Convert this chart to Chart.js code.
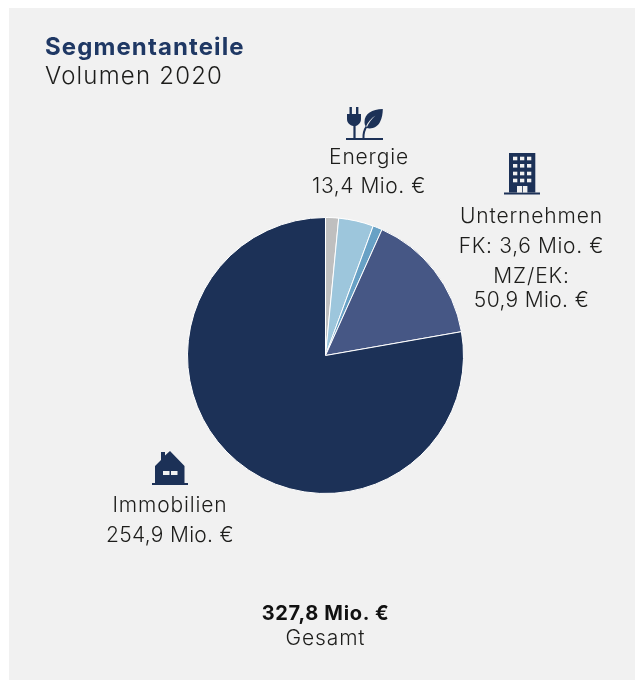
<!DOCTYPE html>
<html lang="de">
<head>
<meta charset="utf-8">
<script src="https://cdn.jsdelivr.net/npm/chart.js@4"></script>
<style>
html,body{margin:0;padding:0;background:#fff}
body{width:635px;height:680px;position:relative;overflow:hidden;font-family:Inter,"Open Sans",sans-serif;color:#1d1d1b}
#panel{position:absolute;left:9px;top:8px;width:626px;height:672px;background:#f1f1f1}
#wrap{position:absolute;left:178px;top:208px;width:295px;height:295px}
.t{position:absolute;white-space:nowrap;transform:translate(-50%,-50%);font-size:21px;letter-spacing:.85px;line-height:1;font-weight:300}
.l{transform:translate(0,-50%)}
svg{position:absolute;left:0;top:0}
</style>
</head>
<body>
<div id="panel"></div>
<div id="wrap"><canvas id="c" width="295" height="295"></canvas></div>
<svg width="635" height="680" viewBox="0 0 635 680" fill="#1c3157">
  <!-- Energie -->
  <rect x="346" y="138" width="37" height="2"/>
  <rect x="349.5" y="107" width="2.4" height="8"/><rect x="356" y="107" width="2.4" height="8"/>
  <path d="M347 114H361V119C361 123 358 125.5 355.6 126V138H353.4V126C350 125.5 347 123 347 119Z"/>
  <path d="M382.8 109C372 109.500 364.500 113.500 364.500 122C364.500 124 365 125.500 366 126.500C368 122 371 118.500 375.500 115.500C371.500 119 368.500 123 366.500 128C372 129.500 377.500 127 380 122C382 118 382.800 113.500 382.800 109Z"/>
  <path d="M363.500 138C363.300 133.500 364.500 129.500 366.500 126.500" fill="none" stroke="#1c3157" stroke-width="2"/>
  <!-- Unternehmen -->
  <rect x="504" y="192.500" width="36" height="2"/>
  <rect x="509" y="153" width="26.300" height="39.500"/>
  <g fill="#f1f1f1">
    <rect x="513" y="156.700" width="4.300" height="3.600"/><rect x="520" y="156.700" width="4.300" height="3.600"/><rect x="527" y="156.700" width="4.300" height="3.600"/>
    <rect x="513" y="164" width="4.300" height="3.600"/><rect x="520" y="164" width="4.300" height="3.600"/><rect x="527" y="164" width="4.300" height="3.600"/>
    <rect x="513" y="171.700" width="4.300" height="3.600"/><rect x="520" y="171.700" width="4.300" height="3.600"/><rect x="527" y="171.700" width="4.300" height="3.600"/>
    <rect x="513" y="178.700" width="4.300" height="3.600"/><rect x="520" y="178.700" width="4.300" height="3.600"/><rect x="527" y="178.700" width="4.300" height="3.600"/>
    <rect x="517" y="186" width="5" height="6.500"/><rect x="522.800" y="186" width="4.600" height="6.500"/>
  </g>
  <!-- Immobilien -->
  <rect x="152" y="483" width="36" height="2"/>
  <path d="M161 452H165V455.500L170 451L184.500 466V483H155V466L161 460Z"/>
  <g fill="#f1f1f1"><rect x="163" y="471" width="6.500" height="4"/><rect x="171" y="471" width="6.500" height="4"/></g>
</svg>
<div id="labels"></div>
<script>
const categories = ["Sonstige", "Energie", "Unternehmen FK", "Unternehmen MZ/EK", "Immobilien"];
const values = [5.0, 13.4, 3.6, 50.9, 254.9];
const colors = ["#bfbfbf", "#9dc6dc", "#68a1c5", "#465785", "#1c3157"];
const titleText = "Segmentanteile";
const subtitleText = "Volumen 2020";
const energyLines = ["Energie", "13,4 Mio. €"];
const companyLines = ["Unternehmen", "FK: 3,6 Mio. €", "MZ/EK:", "50,9 Mio. €"];
const realEstateLines = ["Immobilien", "254,9 Mio. €"];
const totalText = "327,8 Mio. €";
const totalCaption = "Gesamt";

const host = document.getElementById("labels");
function addText(txt, x, y, cls, css) {
  const d = document.createElement("div");
  d.className = "t " + (cls || "");
  d.textContent = txt;
  d.style.left = x + "px";
  d.style.top = y + "px";
  if (css) Object.assign(d.style, css);
  host.appendChild(d);
}
addText(titleText, 45, 47, "l", {fontWeight: 700, fontSize: "24px", letterSpacing: "1.1px", color: "#1f3864"});
addText(subtitleText, 45, 76, "l", {fontSize: "24px", letterSpacing: "1.2px"});
addText(energyLines[0], 369, 156);
addText(energyLines[1], 369, 185, "", {letterSpacing: ".55px"});
addText(companyLines[0], 531.5, 215);
addText(companyLines[1], 531.5, 245, "", {letterSpacing: ".65px"});
addText(companyLines[2], 531.5, 275);
addText(companyLines[3], 531.5, 299, "", {letterSpacing: ".35px"});
addText(realEstateLines[0], 170, 504);
addText(realEstateLines[1], 170, 534, "", {letterSpacing: ".3px"});
addText(totalText, 325.5, 613, "", {fontWeight: 700, fontSize: "20px", letterSpacing: ".7px", color: "#111"});
addText(totalCaption, 325.5, 637);

new Chart(document.getElementById("c"), {
  type: "pie",
  data: {
    labels: categories,
    datasets: [{data: values, backgroundColor: colors, borderColor: "#ffffff", borderWidth: 1}]
  },
  options: {
    responsive: false,
    animation: false,
    layout: {padding: 9},
    plugins: {legend: {display: false}, tooltip: {enabled: false}, title: {display: false}}
  }
});
</script>
</body>
</html>
